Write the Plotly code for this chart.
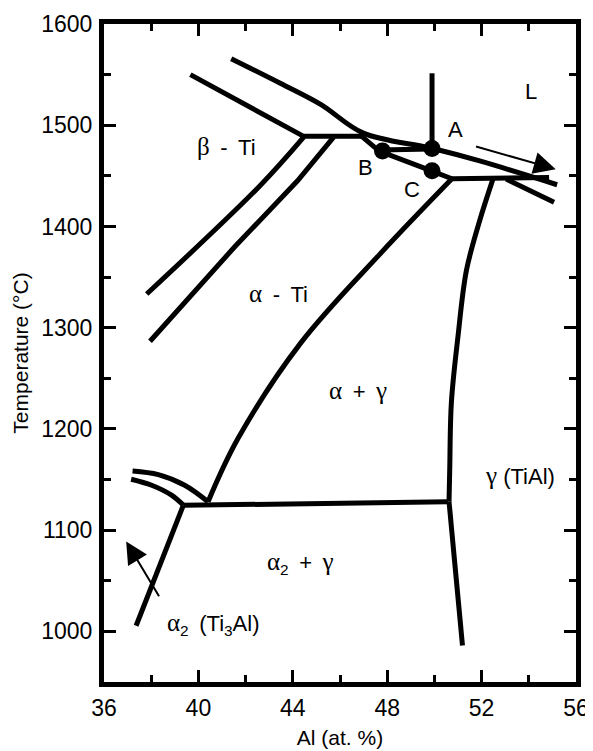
import plotly.graph_objects as go

# ---- phase boundary lines (Al at.%, Temperature °C) ----
liq_x = [41.39, 43.49, 45.18, 46.99, 49.85, 51.92, 55.20]
liq_y = [1565.7, 1541.2, 1520.6, 1492.2, 1477.5, 1464.7, 1441.2]

beta_top_x = [39.66, 44.46, 47.00]
beta_top_y = [1550.0, 1489.0, 1489.0]

beta_a_x = [44.46, 42.60, 37.81]
beta_a_y = [1488.2, 1440.0, 1333.3]

beta_b_x = [45.73, 44.20, 41.53, 37.95]
beta_b_y = [1488.2, 1445.1, 1379.7, 1286.6]

alpha_x = [50.74, 47.71, 44.34, 41.67, 40.41]
alpha_y = [1447.1, 1373.2, 1285.0, 1190.2, 1128.1]

eut_x = [39.36, 50.58]
eut_y = [1124.5, 1128.1]

a2_x = [39.36, 37.36]
a2_y = [1124.5, 1005.6]

arc_up_x = [37.21, 38.30, 39.42, 40.41]
arc_up_y = [1158.5, 1154.9, 1144.4, 1128.1]

arc_lo_x = [37.15, 38.02, 38.86, 39.36]
arc_lo_y = [1150.3, 1144.4, 1134.6, 1124.8]

gam_x = [52.48, 51.92, 51.36, 51.00, 50.72, 50.65, 50.62]
gam_y = [1446.8, 1405.9, 1356.9, 1291.5, 1226.2, 1160.8, 1128.1]

gam_low_x = [50.62, 51.19]
gam_low_y = [1128.1, 986.0]

per_x = [50.74, 54.86]
per_y = [1447.1, 1448.4]

low_x = [53.04, 55.07]
low_y = [1446.8, 1423.8]

bc_x = [46.86, 47.66, 49.88, 50.74]
bc_y = [1490.2, 1474.5, 1454.9, 1447.1]

ba_x = [47.66, 49.88]
ba_y = [1475.5, 1476.5]

vert_x = [49.90, 49.90]
vert_y = [1477.0, 1551.3]

# ---- marked points ----
pt_x = [49.90, 47.80, 49.90]
pt_y = [1477.0, 1474.5, 1455.0]

# ---- arrows (tail -> head) ----
arr_tail_x = [51.70, 38.37]
arr_tail_y = [1479.4, 1033.3]
arr_head_x = [55.14, 36.94]
arr_head_y = [1456.6, 1088.9]

GR = '<span style="font-family:Liberation Serif, Times New Roman, serif;font-size:25px">{}</span>'
AL = GR.format("\u03b1")
BE = GR.format("\u03b2")
GA = GR.format("\u03b3")
SP = "\u00a0\u2009"

# ---- text labels ----
lab_text = ["L", "A", "B", "C",
            BE + SP + "-" + SP + "Ti",
            AL + SP + "-" + SP + "Ti",
            AL + SP + "+" + SP + GA,
            GA + " (TiAl)",
            AL + "<sub>2</sub>" + SP + "+" + SP + GA,
            AL + "<sub>2</sub>" + SP + "(Ti<sub>3</sub>Al)"]
lab_x = [54.08, 50.90, 47.07, 49.04, 41.18, 43.39, 46.75, 53.62, 44.34, 40.61]
lab_y = [1533.3, 1495.8, 1458.2, 1437.0, 1479.4, 1334.0, 1237.6, 1154.2, 1067.6, 1007.2]

x_ticks = [36, 40, 44, 48, 52, 56]
y_ticks = [1000, 1100, 1200, 1300, 1400, 1500, 1600]

FONT = "Liberation Sans, Arial, sans-serif"

fig = go.Figure()
curves = [(liq_x, liq_y, "spline"), (beta_top_x, beta_top_y, "linear"),
          (beta_a_x, beta_a_y, "spline"), (beta_b_x, beta_b_y, "linear"),
          (alpha_x, alpha_y, "spline"), (eut_x, eut_y, "linear"),
          (a2_x, a2_y, "linear"), (arc_up_x, arc_up_y, "spline"),
          (arc_lo_x, arc_lo_y, "spline"), (gam_x, gam_y, "spline"),
          (gam_low_x, gam_low_y, "linear"), (per_x, per_y, "linear"),
          (low_x, low_y, "linear"), (bc_x, bc_y, "linear"),
          (ba_x, ba_y, "linear"), (vert_x, vert_y, "linear")]
for xs, ys, shp in curves:
    fig.add_trace(go.Scatter(x=xs, y=ys, mode="lines",
                             line=dict(color="black", width=5, shape=shp),
                             hoverinfo="skip", showlegend=False))

fig.add_trace(go.Scatter(x=pt_x, y=pt_y, mode="markers",
                         marker=dict(color="black", size=17), showlegend=False))

annotations = []
for tx, ty, hx, hy in zip(arr_tail_x, arr_tail_y, arr_head_x, arr_head_y):
    annotations.append(dict(x=hx, y=hy, ax=tx, ay=ty, xref="x", yref="y",
                            axref="x", ayref="y", showarrow=True, arrowhead=2,
                            arrowsize=2.2, arrowwidth=2, arrowcolor="black", text=""))
for t, x, y in zip(lab_text, lab_x, lab_y):
    annotations.append(dict(x=x, y=y, xref="x", yref="y", text=t, showarrow=False,
                            font=dict(family=FONT, size=22, color="black")))

axis_common = dict(showline=True, linewidth=5, linecolor="black", mirror="ticks",
                   ticks="inside", ticklen=12, tickwidth=2.5, tickcolor="black",
                   showgrid=False, zeroline=False, automargin=False,
                   tickfont=dict(family=FONT, size=23, color="black"))

# the page places the figure 8 px from the window's top-left corner
fig.update_layout(
    width=585, height=743,
    margin=dict(l=96, r=17, t=16, b=69),
    paper_bgcolor="white", plot_bgcolor="white",
    annotations=annotations,
    xaxis=dict(range=[36, 56], tickvals=x_ticks,
               minor=dict(dtick=2, tick0=36, ticks="inside", ticklen=7, tickwidth=2.5, tickcolor="black"),
               title=dict(text="Al (at. %)", font=dict(family=FONT, size=21, color="black"), standoff=12),
               ticklabelstandoff=1,
               **axis_common),
    yaxis=dict(range=[950, 1600], tickvals=y_ticks,
               minor=dict(dtick=50, tick0=950, ticks="inside", ticklen=7, tickwidth=2.5, tickcolor="black"),
               title=dict(text="Temperature (\u00b0C)", font=dict(family=FONT, size=21, color="black"), standoff=8),
               ticklabelstandoff=2,
               **axis_common),
)

fig.write_html("out.html")
